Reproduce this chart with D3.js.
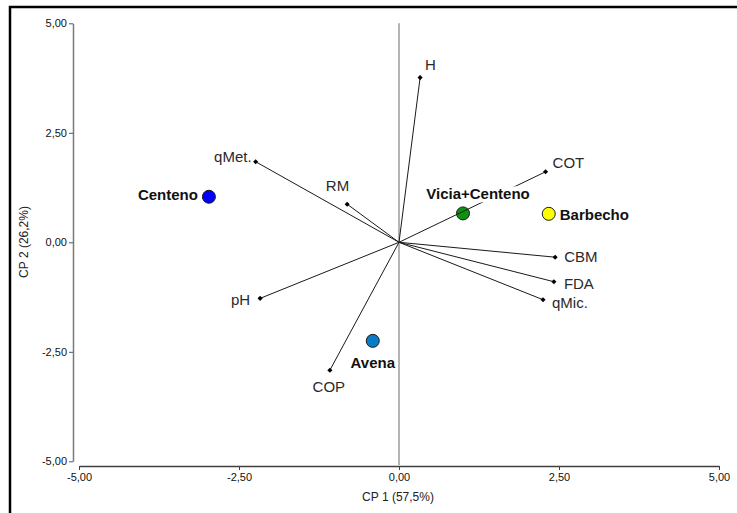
<!DOCTYPE html>
<html>
<head>
<meta charset="utf-8">
<script src="https://cdn.jsdelivr.net/npm/d3@7"></script>
<style>
  html, body { margin: 0; padding: 0; background: #fff; }
  svg { display: block; font-family: "Liberation Sans", Arial, sans-serif; }
</style>
</head>
<body>
<svg id="chart" width="737" height="513"></svg>
<script>
// ---- data ----
const varNames = ["H", "COT", "qMet.", "RM", "pH", "COP", "CBM", "FDA", "qMic."];
const varCP1   = [0.33, 2.29, -2.24, -0.81, -2.17, -1.08, 2.44, 2.42, 2.25];
const varCP2   = [3.76, 1.61, 1.84, 0.87, -1.28, -2.92, -0.34, -0.90, -1.31];

const trtNames = ["Centeno", "Vicia+Centeno", "Barbecho", "Avena"];
const trtCP1   = [-2.97, 1.00, 2.34, -0.41];
const trtCP2   = [1.04, 0.66, 0.65, -2.25];

const tickValues = [-5, -2.5, 0, 2.5, 5];
const xTitle = "CP 1 (57,5%)";
const yTitle = "CP 2 (26,2%)";

// ---- styles / layout (kept separate from the data) ----
const trtColors = ["#0000ff", "#109010", "#ffff00", "#0a7cc4"];
// label placement: [anchor, dx, dy]
const varLabelPos = [
  ["start", 5, -8], ["start", 7, -4], ["end", -4, 0], ["end", 2, -13],
  ["end", -10, 7], ["middle", -1, 22], ["start", 9, 5], ["start", 10, 7], ["start", 9, 8]
];
const trtLabelPos = [["end", -11, 3.5], ["middle", 15, -14], ["start", 11, 6], ["middle", 0, 27]];

const svg = d3.select("#chart");
const x = d3.scaleLinear().domain([-5, 5]).range([79, 719]);
const y = d3.scaleLinear().domain([-5, 5]).range([461.3, 23.3]);
const fmt = v => d3.format(".2f")(v).replace(".", ",").replace("−", "-");

// outer frame
svg.append("rect").attr("x", 10).attr("y", 7).attr("width", 760).attr("height", 540)
  .attr("fill", "none").attr("stroke", "#000").attr("stroke-width", 2.5);

// vertical zero line
svg.append("line").attr("x1", x(0)).attr("x2", x(0)).attr("y1", y(5)).attr("y2", 465)
  .attr("stroke", "#b4b4b4").attr("stroke-width", 2);

// y axis
const yAxis = d3.axisLeft(y).tickValues(tickValues).tickFormat(fmt).tickSize(4).tickSizeOuter(0);
const gy = svg.append("g").attr("transform", "translate(73,0)").call(yAxis);
gy.select(".domain").attr("stroke", "#7a7a7a").attr("stroke-width", 1.5);
gy.selectAll(".tick line").attr("stroke", "#555");
gy.selectAll(".tick text").attr("font-size", 11).attr("fill", "#111")
  .attr("font-family", "Liberation Sans, Arial, sans-serif").attr("x", -6);

// x axis
const xAxis = d3.axisBottom(x).tickValues(tickValues).tickFormat(fmt).tickSize(4).tickSizeOuter(0);
const gx = svg.append("g").attr("transform", "translate(0,466)").call(xAxis);
gx.select(".domain").attr("stroke", "#404040").attr("stroke-width", 1.5);
gx.selectAll(".tick line").attr("stroke", "#404040");
gx.selectAll(".tick text").attr("font-size", 11).attr("fill", "#111")
  .attr("font-family", "Liberation Sans, Arial, sans-serif").attr("y", 7);

// axis titles
svg.append("text").attr("x", 398).attr("y", 501).attr("text-anchor", "middle")
  .attr("font-size", 12).attr("fill", "#222").text(xTitle);
svg.append("text").attr("transform", "translate(28,242) rotate(-90)").attr("text-anchor", "middle")
  .attr("font-size", 12).attr("fill", "#222").text(yTitle);

// treatment circles
const trt = trtNames.map((n, i) => ({ name: n, cx: trtCP1[i], cy: trtCP2[i], color: trtColors[i], pos: trtLabelPos[i] }));
svg.append("g").selectAll("circle").data(trt).join("circle")
  .attr("cx", d => x(d.cx)).attr("cy", d => y(d.cy)).attr("r", 6.5)
  .attr("fill", d => d.color).attr("stroke", "#1a1a1a").attr("stroke-width", 1);

// variable vectors
const vars = varNames.map((n, i) => ({ name: n, vx: varCP1[i], vy: varCP2[i], pos: varLabelPos[i] }));
svg.append("g").selectAll("line").data(vars).join("line")
  .attr("x1", x(0)).attr("y1", y(0))
  .attr("x2", d => x(d.vx)).attr("y2", d => y(d.vy))
  .attr("stroke", "#1a1a1a").attr("stroke-width", 1);
svg.append("g").selectAll("path").data(vars).join("path")
  .attr("d", d3.symbol().type(d3.symbolSquare).size(13))
  .attr("transform", d => `translate(${x(d.vx)},${y(d.vy)}) rotate(45)`)
  .attr("fill", "#000");

// variable labels
const vl = svg.append("g").selectAll("g").data(vars).join("g");
vl.append("rect");
vl.append("text")
  .attr("x", d => x(d.vx) + d.pos[1]).attr("y", d => y(d.vy) + d.pos[2])
  .attr("text-anchor", d => d.pos[0]).attr("font-size", 15).attr("fill", "#2a2a2a")
  .text(d => d.name);

// treatment labels
const tl = svg.append("g").selectAll("g").data(trt).join("g");
tl.append("rect");
tl.append("text")
  .attr("x", d => x(d.cx) + d.pos[1]).attr("y", d => y(d.cy) + d.pos[2])
  .attr("text-anchor", d => d.pos[0]).attr("font-size", 15).attr("font-weight", "bold").attr("fill", "#111")
  .text(d => d.name);

// white backgrounds behind labels
svg.selectAll("g > g").each(function () {
  const g = d3.select(this);
  const t = g.select("text");
  if (t.empty()) return;
  const b = t.node().getBBox();
  g.select("rect").attr("x", b.x - 1).attr("y", b.y + 1).attr("width", b.width + 2).attr("height", b.height - 1)
    .attr("fill", "#fff");
});
</script>
</body>
</html>
